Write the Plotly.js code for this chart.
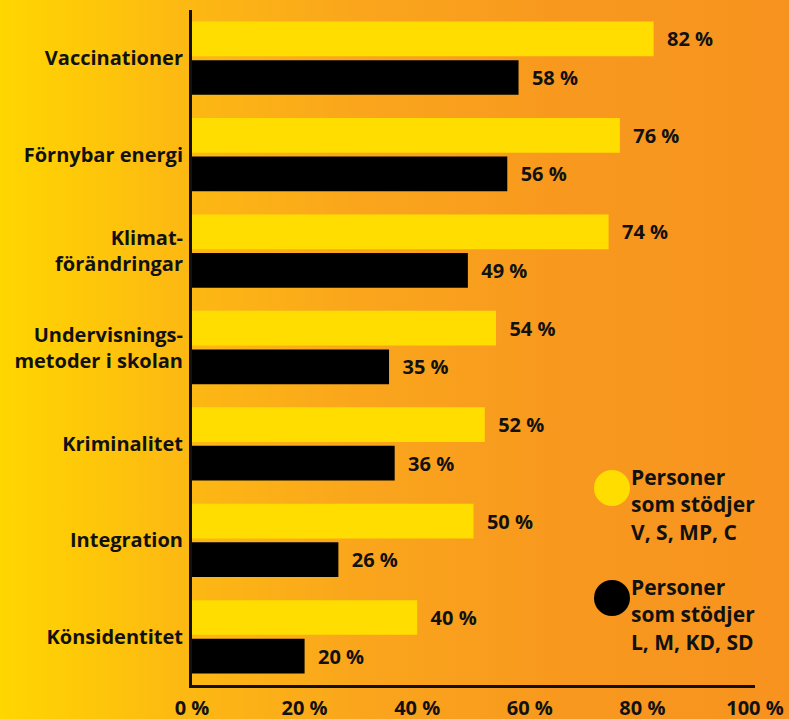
<!DOCTYPE html>
<html>
<head>
<meta charset="utf-8">
<script src="https://cdn.plot.ly/plotly-3.0.1.min.js"></script>
<style>
  html, body { margin: 0; padding: 0; }
  #chart {
    width: 789px; height: 719px;
    background: linear-gradient(to right, #FFD600 0%, #FDBA12 22%, #FAA61C 45%, #F8991E 70%, #F7931E 100%);
  }
</style>
</head>
<body>
<div id="chart"></div>
<script>
const categories = [
  "Vaccinationer",
  "Förnybar energi",
  "Klimat-<br>förändringar",
  "Undervisnings-<br>metoder i skolan",
  "Kriminalitet",
  "Integration",
  "Könsidentitet"
];
const seriesNames = [
  "Personer<br>som stödjer<br>V, S, MP, C",
  "Personer<br>som stödjer<br>L, M, KD, SD"
];
const leftBlocValues = [82, 76, 74, 54, 52, 50, 40];
const rightBlocValues = [58, 56, 49, 35, 36, 26, 20];
const tickValues = [0, 20, 40, 60, 80, 100];
const tickLabels = ["0 %", "20 %", "40 %", "60 %", "80 %", "100 %"];
const colors = ["#FFDD00", "#000000"];

const FONT = "'Open Sans', Lato, sans-serif";
const TXT = "#111111";

function barTrace(vals, name, color) {
  return {
    type: "bar",
    orientation: "h",
    y: categories,
    x: vals,
    name: name,
    marker: { color: color, line: { width: 0 } },
    text: vals.map(v => "\u00a0\u00a0" + v + " %"),
    texttemplate: "%{text}",
    textposition: "outside",
    constraintext: "none",
    cliponaxis: false,
    textfont: { family: FONT, size: 20, color: TXT, weight: 700 },
    hoverinfo: "skip",
    showlegend: false
  };
}

const data = [
  barTrace(leftBlocValues, seriesNames[0], colors[0]),
  barTrace(rightBlocValues, seriesNames[1], colors[1])
];

const W = 789, H = 719;
const mL = 192, mR = 34, mT = 10, mB = 34;
const pw = W - mL - mR, ph = H - mT - mB;
function px(x) { return (x - mL) / pw; }
function py(y) { return (H - mB - y) / ph; }

const legendCircleCenters = [[612, 488], [612, 598]];
const legendTextTops = [[629, 461], [629, 571]];
const r = 18;

const shapes = legendCircleCenters.map((c, i) => ({
  type: "circle", xref: "paper", yref: "paper",
  x0: px(c[0] - r), x1: px(c[0] + r),
  y0: py(c[1] + r), y1: py(c[1] - r),
  fillcolor: colors[i], line: { width: 0 }
}));

const annotations = legendTextTops.map((t, i) => ({
  xref: "paper", yref: "paper",
  x: px(t[0]), y: py(t[1]),
  xanchor: "left", yanchor: "top",
  align: "left", showarrow: false,
  text: seriesNames[i],
  font: { family: FONT, size: 21, color: TXT, weight: 700 }
}));

const layout = {
  width: W, height: H,
  margin: { l: mL, r: mR, t: mT, b: mB, pad: 0 },
  paper_bgcolor: "rgba(0,0,0,0)",
  plot_bgcolor: "rgba(0,0,0,0)",
  barmode: "group",
  bargap: 0.2,
  bargroupgap: 0.1,
  showlegend: false,
  font: { family: FONT, color: TXT },
  xaxis: {
    range: [0, 100],
    tickvals: tickValues,
    ticktext: tickLabels,
    showgrid: false,
    zeroline: false,
    showline: true,
    linecolor: "#111",
    linewidth: 3,
    ticks: "",
    ticklabelstandoff: 3,
    tickfont: { family: FONT, size: 20, color: TXT, weight: 700 },
    fixedrange: true
  },
  yaxis: {
    autorange: "reversed",
    type: "category",
    showgrid: false,
    zeroline: false,
    showline: true,
    linecolor: "#111",
    linewidth: 3,
    ticks: "",
    ticklabelstandoff: 2,
    tickfont: { family: FONT, size: 20, color: TXT, weight: 700 },
    fixedrange: true
  },
  shapes: shapes,
  annotations: annotations
};

Plotly.newPlot("chart", data, layout, { displayModeBar: false, staticPlot: true });
</script>
</body>
</html>
